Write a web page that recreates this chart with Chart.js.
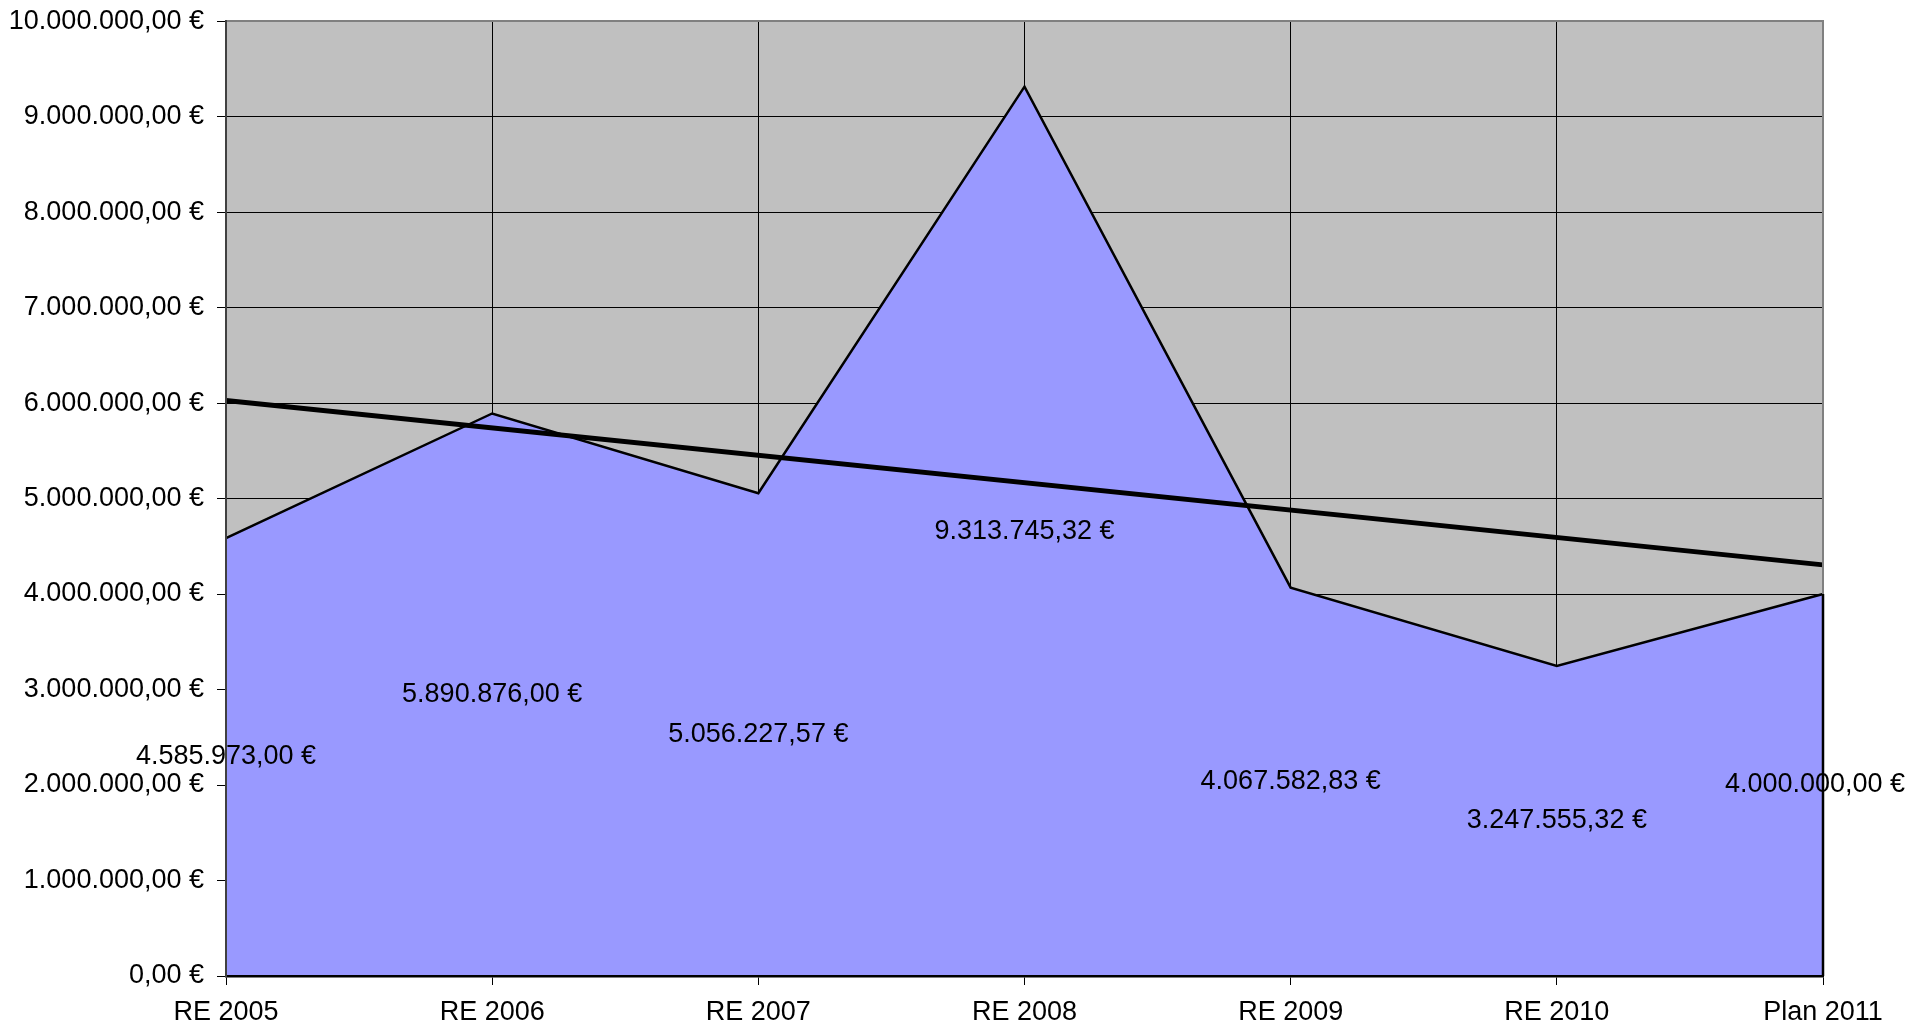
<!DOCTYPE html>
<html>
<head>
<meta charset="utf-8">
<script src="https://cdn.jsdelivr.net/npm/chart.js@4/dist/chart.umd.min.js"></script>
<style>
  html, body { margin: 0; padding: 0; background: #fff; }
  #wrap { width: 1930px; height: 1032px; }
</style>
</head>
<body>
<div id="wrap"><canvas id="myChart" width="1930" height="1032"></canvas></div>
<script>
// categorias y valores
let categorias = ["RE 2005", "RE 2006", "RE 2007", "RE 2008", "RE 2009", "RE 2010", "Plan 2011"];
let valores = [4585973.00, 5890876.00, 5056227.57, 9313745.32, 4067582.83, 3247555.32, 4000000.00];
// linea de tendencia (solo extremos)
let tendencia = [6026700, null, null, null, null, null, 4305300];
let yMin = 0;
let yMax = 10000000;
let yPaso = 1000000;

const FONT = '"Liberation Sans", Arial, sans-serif';

function euro(v) {
    let neg = v < 0;
    v = Math.abs(v);
    let s = v.toFixed(2);
    let partes = s.split('.');
    let ent = partes[0].replace(/\B(?=(\d{3})+(?!\d))/g, '.');
    return (neg ? '-' : '') + ent + ',' + partes[1] + ' €';
}

// fondo gris del area del grafico
const fondo = {
    id: 'fondo',
    beforeDraw(chart) {
        let a = chart.chartArea;
        let c = chart.ctx;
        c.save();
        c.fillStyle = '#C0C0C0';
        c.fillRect(a.left, a.top, a.right - a.left, a.bottom - a.top);
        c.restore();
    },
    afterDatasetsDraw(chart) {
        let a = chart.chartArea;
        let c = chart.ctx;
        let ys = chart.scales.y;
        let last = valores[valores.length - 1];
        c.save();
        c.strokeStyle = '#808080';
        c.lineWidth = 2;
        c.beginPath();
        c.moveTo(a.left, a.top);
        c.lineTo(a.right, a.top);
        c.lineTo(a.right, ys.getPixelForValue(last));
        c.stroke();
        c.strokeStyle = '#000';
        c.lineWidth = 2.5;
        c.beginPath();
        c.moveTo(a.right, ys.getPixelForValue(last));
        c.lineTo(a.right, a.bottom);
        c.stroke();
        c.restore();
    }
};

// etiquetas de datos en la mitad del area
const etiquetas = {
    id: 'etiquetas',
    afterDraw(chart) {
        let c = chart.ctx;
        let xs = chart.scales.x;
        let ys = chart.scales.y;
        c.save();
        c.font = '27px ' + FONT;
        c.fillStyle = '#000';
        c.textAlign = 'center';
        c.textBaseline = 'middle';
        valores.forEach((v, i) => {
            let dx = (i === valores.length - 1) ? -8 : 0;
            c.fillText(euro(v), xs.getPixelForValue(i) + dx, ys.getPixelForValue(v / 2));
        });
        c.restore();
    }
};

let ctx = document.getElementById('myChart').getContext('2d');
let chart = new Chart(ctx, {
    type: 'line',
    data: {
        labels: categorias,
        datasets: [{
            label: 'Valores',
            data: valores,
            backgroundColor: '#9999FF',
            borderColor: '#000000',
            borderWidth: 2.5,
            fill: 'origin',
            pointRadius: 0,
            tension: 0,
            order: 2
        }, {
            label: 'Tendencia',
            data: tendencia,
            borderColor: '#000000',
            borderWidth: 5,
            fill: false,
            spanGaps: true,
            pointRadius: 0,
            tension: 0,
            order: 1
        }]
    },
    options: {
        responsive: false,
        animation: false,
        layout: { padding: { left: 0, right: 107, top: 20, bottom: 0 } },
        plugins: {
            legend: { display: false },
            tooltip: { enabled: false }
        },
        scales: {
            x: {
                offset: false,
                grid: { color: '#000000', lineWidth: 1, tickLength: 9, offset: false },
                border: { color: '#000000', width: 2.5, z: 1 },
                ticks: {
                    color: '#000000',
                    font: { family: FONT, size: 27 },
                    padding: 11,
                    maxRotation: 0,
                    autoSkip: false
                },
                afterFit(scale) { scale.height = 56; }
            },
            y: {
                min: yMin,
                max: yMax,
                grid: { color: '#000000', lineWidth: 1, tickLength: 9 },
                border: { color: '#404040', width: 2, z: 1 },
                ticks: {
                    stepSize: yPaso,
                    color: '#000000',
                    font: { family: FONT, size: 27, lineHeight: 0.6 },
                    padding: 13,
                    callback: (v) => euro(v)
                },
                afterFit(scale) { scale.width = 226; }
            }
        }
    },
    plugins: [fondo, etiquetas]
});
</script>
</body>
</html>
